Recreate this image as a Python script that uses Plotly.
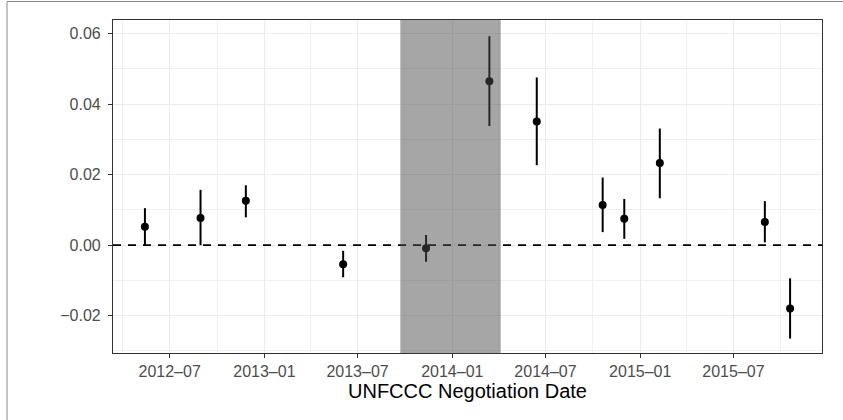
import plotly.graph_objects as go

# UNFCCC negotiation sessions: estimated effect with confidence interval
dates = ["2012-05-14", "2012-08-30", "2012-11-26", "2013-06-03", "2013-11-11",
         "2014-03-14", "2014-06-14", "2014-10-20", "2014-12-01", "2015-02-08",
         "2015-08-31", "2015-10-19"]
estimate = [0.0052, 0.0077, 0.0126, -0.0054, -0.0009, 0.0465,
            0.0351, 0.0114, 0.0075, 0.0233, 0.0066, -0.0180]
ci_low = [0.0000, 0.0000, 0.0079, -0.0091, -0.0047, 0.0338,
          0.0227, 0.0037, 0.0018, 0.0133, 0.0008, -0.0265]
ci_high = [0.0105, 0.0157, 0.0170, -0.0016, 0.0029, 0.0593,
           0.0476, 0.0192, 0.0131, 0.0331, 0.0125, -0.0094]

# Shaded period
shade_start = "2013-09-22"
shade_end = "2014-04-05"

x_ticks = ["2012-07-01", "2013-01-01", "2013-07-01", "2014-01-01",
           "2014-07-01", "2015-01-01", "2015-07-01"]
x_labels = ["2012–07", "2013–01", "2013–07", "2014–01",
            "2014–07", "2015–01", "2015–07"]
x_minor = ["2012-04-01", "2012-10-01", "2013-04-01", "2013-10-01",
           "2014-04-01", "2014-10-01", "2015-04-01", "2015-10-01"]
y_ticks = [-0.02, 0.0, 0.02, 0.04, 0.06]
y_labels = ["−0.02", "0.00", "0.02", "0.04", "0.06"]
y_minor = [-0.03, -0.01, 0.01, 0.03, 0.05]

err_plus = [h - e for h, e in zip(ci_high, estimate)]
err_minus = [e - l for e, l in zip(estimate, ci_low)]

FONT = "Liberation Sans, Arial, Helvetica, sans-serif"

fig = go.Figure()
fig.add_trace(go.Scatter(
    x=dates, y=estimate, mode="markers",
    marker=dict(color="black", size=8),
    error_y=dict(type="data", symmetric=False, array=err_plus,
                 arrayminus=err_minus, color="black", thickness=2, width=0),
    showlegend=False, hoverinfo="x+y",
))

fig.add_hline(y=0, line=dict(color="black", width=1.7, dash="8px,7px"), layer="above")
fig.add_shape(type="rect", xref="x", yref="paper", x0=shade_start, x1=shade_end,
              y0=0, y1=1, fillcolor="rgba(77,77,77,0.5)", line=dict(width=0),
              layer="above")

# outer frame of the figure
L, R, T, B = 113, 21, 20, 67
W, H = 843 - L - R, 420 - T - B
fig.add_shape(type="rect", xref="paper", yref="paper",
              x0=(7 - L) / W, x1=(860 - L) / W,
              y0=(H + T - 440) / H, y1=(H + T - 1.5) / H,
              line=dict(color="#8a8a8a", width=1), fillcolor="rgba(0,0,0,0)",
              layer="below")

axis_common = dict(
    showline=True, mirror=True, linecolor="#333333", linewidth=1.2,
    ticks="outside", ticklen=4, tickwidth=1, tickcolor="#333333",
    showgrid=True, gridcolor="#ebebeb", gridwidth=1.3, zeroline=False,
    tickfont=dict(family=FONT, size=16, color="#4d4d4d"),
)

fig.update_xaxes(
    type="date", range=["2012-03-13", "2015-12-20"],
    tickmode="array", tickvals=x_ticks, ticktext=x_labels,
    minor=dict(tickmode="array", tickvals=x_minor, showgrid=True,
               gridcolor="#f0f0f0", gridwidth=0.9, ticks=""),
    title=dict(text="UNFCCC Negotiation Date",
               font=dict(family=FONT, size=20, color="black"), standoff=4),
    **axis_common,
)
fig.update_yaxes(
    range=[-0.0306, 0.0639],
    tickmode="array", tickvals=y_ticks, ticktext=y_labels,
    ticklabelstandoff=4,
    minor=dict(tickmode="array", tickvals=y_minor, showgrid=True,
               gridcolor="#f0f0f0", gridwidth=0.9, ticks=""),
    **axis_common,
)

fig.update_layout(
    width=843, height=420,
    margin=dict(l=L, r=R, t=T, b=B),
    paper_bgcolor="white", plot_bgcolor="white",
    font=dict(family=FONT),
)

fig.write_html("out.html")
